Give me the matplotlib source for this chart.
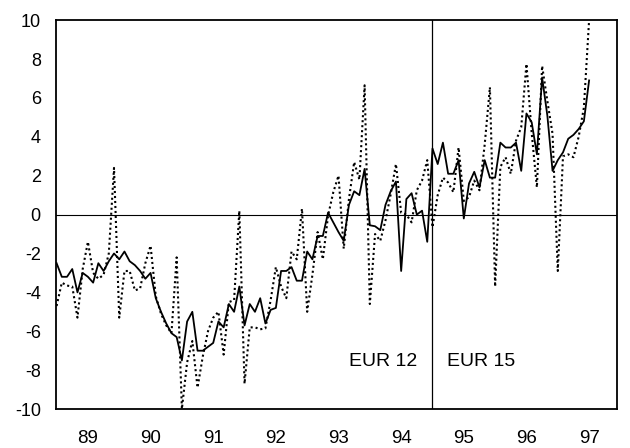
import matplotlib.pyplot as plt
import numpy as np

plt.rcParams['font.family'] = ['Liberation Sans', 'DejaVu Sans']
plt.rcParams['axes.unicode_minus'] = False

# monthly values, Jan 1989 .. Jul 1997
solid = [
    -2.5, -3.2, -3.2, -2.8, -4.0, -3.0, -3.2, -3.5, -2.5, -2.9, -2.4, -2.0,   # 89
    -2.3, -1.9, -2.4, -2.6, -2.9, -3.3, -3.0, -4.3, -5.0, -5.6, -6.1, -6.3,   # 90
    -7.5, -5.5, -5.0, -7.0, -7.0, -6.8, -6.6, -5.5, -5.8, -4.6, -5.0, -3.7,   # 91
    -5.7, -4.6, -5.0, -4.3, -5.6, -4.9, -4.8, -2.9, -2.9, -2.7, -3.4, -3.4,   # 92
    -1.9, -2.3, -1.1, -1.1, 0.1, -0.4, -0.9, -1.35, 0.5, 1.2, 1.0, 2.35,      # 93
    -0.55, -0.6, -0.8, 0.5, 1.2, 1.7, -2.9, 0.8, 1.1, 0.0, 0.2, -1.4,         # 94
    3.4, 2.6, 3.7, 2.1, 2.1, 2.8, -0.2, 1.6, 2.2, 1.4, 2.8, 1.9,              # 95
    1.9, 3.7, 3.45, 3.45, 3.7, 2.25, 5.2, 4.75, 3.1, 7.05, 5.1, 2.25,         # 96
    2.8, 3.2, 3.9, 4.1, 4.4, 4.8, 6.9,                                        # 97
]
dotted = [
    -4.7, -3.5, -3.65, -3.7, -5.3, -2.8, -1.4, -3.0, -3.3, -3.1, -2.0, 2.4,   # 89
    -5.3, -2.9, -2.9, -3.9, -3.8, -2.5, -1.6, -4.2, -5.1, -5.7, -6.1, -2.2,   # 90
    -10.0, -7.6, -6.5, -8.9, -7.3, -6.0, -5.3, -5.0, -7.2, -4.5, -4.4, 0.2,   # 91
    -8.7, -5.8, -5.8, -5.9, -5.85, -4.4, -2.7, -3.7, -4.3, -1.9, -2.3, 0.3,   # 92
    -5.0, -3.1, -0.9, -2.3, -0.05, 1.15, 2.0, -1.75, 0.8, 2.7, 1.8, 6.65,     # 93
    -4.6, -1.0, -1.35, -0.3, 1.05, 2.6, 0.1, 0.0, -0.4, 1.25, 1.75, 2.8,      # 94
    -0.65, 1.0, 1.9, 1.65, 1.15, 3.45, 0.7, 0.9, 1.75, 1.25, 3.6, 6.55,       # 95
    -3.7, 2.45, 2.95, 2.1, 3.8, 4.5, 7.75, 4.2, 1.4, 7.65, 5.85, 4.15,        # 96
    -2.9, 3.0, 3.1, 2.95, 4.0, 5.5, 10.0,                                     # 97
]
year_labels = ['89', '90', '91', '92', '93', '94', '95', '96', '97']
eur15_start = 72  # Jan 1995

months = np.arange(len(solid))

fig = plt.figure(figsize=(6.3, 4.48), dpi=100)
ax = fig.add_axes([0.089, 0.087, 0.890, 0.868])

ax.axhline(0, color='black', linewidth=0.8)
ax.axvline(eur15_start, color='black', linewidth=0.9)

ax.plot(months, dotted, color='black', linewidth=1.5, linestyle=(0, (1, 1.4)))
ax.plot(months, solid, color='black', linewidth=1.3)

ax.text(eur15_start - 3, -7.55, 'EUR 12', fontsize=14, ha='right', va='center')
ax.text(eur15_start + 2.8, -7.55, 'EUR 15', fontsize=14, ha='left', va='center')

ax.set_xlim(-0.1, 107.3)
ax.set_ylim(-10, 10)
ax.set_yticks(np.arange(-10, 11, 2))
ax.set_xticks([12 * i + 6 for i in range(len(year_labels))])
ax.set_xticklabels(year_labels)
ax.tick_params(axis='y', length=0, pad=11, labelsize=13)
ax.tick_params(axis='x', length=0, pad=15, labelsize=13.5)

for s in ax.spines.values():
    s.set_linewidth(1.3)

fig.savefig('out.png', dpi=100)
